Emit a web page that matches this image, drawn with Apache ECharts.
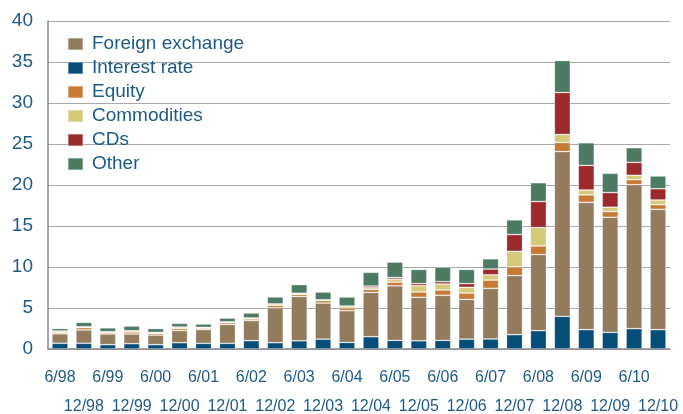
<!DOCTYPE html>
<html>
<head>
<meta charset="utf-8">
<script src="https://cdn.jsdelivr.net/npm/echarts@6/dist/echarts.min.js"></script>
<style>html,body{margin:0;padding:0;background:#fff}#c{width:683px;height:414px}</style>
</head>
<body>
<div id="c"></div>
<script>
var categories = ['6/98','12/98','6/99','12/99','6/00','12/00','6/01','12/01','6/02','12/02','6/03','12/03','6/04','12/04','6/05','12/05','6/06','12/06','6/07','12/07','6/08','12/08','6/09','12/09','6/10','12/10'];
var interestRate = [0.70,0.70,0.53,0.65,0.53,0.77,0.69,0.69,1.02,0.77,1.00,1.20,0.80,1.50,1.05,1.00,1.05,1.20,1.22,1.75,2.24,3.98,2.36,2.03,2.48,2.36];
var foreignExchange = [1.15,1.62,1.30,1.18,1.17,1.47,1.67,2.31,2.44,4.25,5.40,4.40,3.87,5.40,6.65,5.30,5.50,4.85,6.18,7.20,9.27,20.10,15.53,14.03,17.56,14.67];
var equity = [0.15,0.28,0.16,0.24,0.20,0.24,0.16,0.20,0.20,0.30,0.25,0.30,0.30,0.37,0.45,0.65,0.65,0.77,1.00,1.06,1.06,1.10,0.90,0.70,0.61,0.57];
var commodities = [0.20,0.12,0.12,0.16,0.12,0.20,0.12,0.12,0.12,0.18,0.15,0.10,0.27,0.20,0.37,0.77,0.73,0.70,0.65,1.90,2.24,0.98,0.60,0.53,0.53,0.57];
var cds = [0,0,0,0,0,0,0,0,0,0,0,0,0,0.20,0.20,0.25,0.28,0.45,0.70,2.04,3.17,5.12,3.00,1.79,1.58,1.38];
var other = [0.30,0.53,0.47,0.57,0.48,0.45,0.41,0.45,0.61,0.85,1.05,0.95,1.10,1.68,1.88,1.73,1.74,1.73,1.25,1.80,2.30,3.90,2.76,2.35,1.79,1.55];
var yTicks = [0,5,10,15,20,25,30,35,40];

var textColor = '#1E5A87';
var font = 'Liberation Sans, Arial, sans-serif';
function mk(name, data, color) {
  return {
    name: name, type: 'bar', stack: 'total', data: data, barWidth: 16,
    itemStyle: { color: color, borderColor: 'rgba(255,255,255,0.35)', borderWidth: 0.8 },
    emphasis: { disabled: true }
  };
}
var chart = echarts.init(document.getElementById('c'));
chart.setOption({
  animation: false,
  backgroundColor: '#fff',
  grid: { left: 48, right: 13, top: 21, bottom: 65, containLabel: false, outerBoundsMode: 'none' },
  legend: {
    orient: 'vertical', left: 62, top: 29, itemWidth: 15, itemHeight: 12, itemGap: 4,
    selectedMode: false, icon: 'rect',
    data: ['Foreign exchange','Interest rate','Equity','Commodities','CDs','Other'],
    textStyle: { color: textColor, fontSize: 19, fontFamily: font, lineHeight: 20, padding: [0,0,0,4] }
  },
  xAxis: {
    type: 'category', data: categories,
    axisLine: { lineStyle: { color: '#888', width: 1.5 } },
    axisTick: { show: false },
    axisLabel: {
      interval: 0, color: textColor, fontSize: 16, fontFamily: font, lineHeight: 29, margin: 14,
      formatter: function (v, i) { return i % 2 === 0 ? v : '\n' + v; }
    }
  },
  yAxis: {
    type: 'value', min: yTicks[0], max: yTicks[yTicks.length-1], interval: 5,
    axisLine: { show: true, lineStyle: { color: '#888', width: 1.5 } },
    axisTick: { show: false },
    splitLine: { lineStyle: { color: '#a8a8a8', width: 1.2 } },
    axisLabel: { color: textColor, fontSize: 19, fontFamily: font, margin: 15 }
  },
  series: [
    mk('Interest rate', interestRate, '#074D77'),
    mk('Foreign exchange', foreignExchange, '#937B5E'),
    mk('Equity', equity, '#C67A35'),
    mk('Commodities', commodities, '#D5C97A'),
    mk('CDs', cds, '#9A2A2B'),
    mk('Other', other, '#4D7A63')
  ]
});
</script>
</body>
</html>
